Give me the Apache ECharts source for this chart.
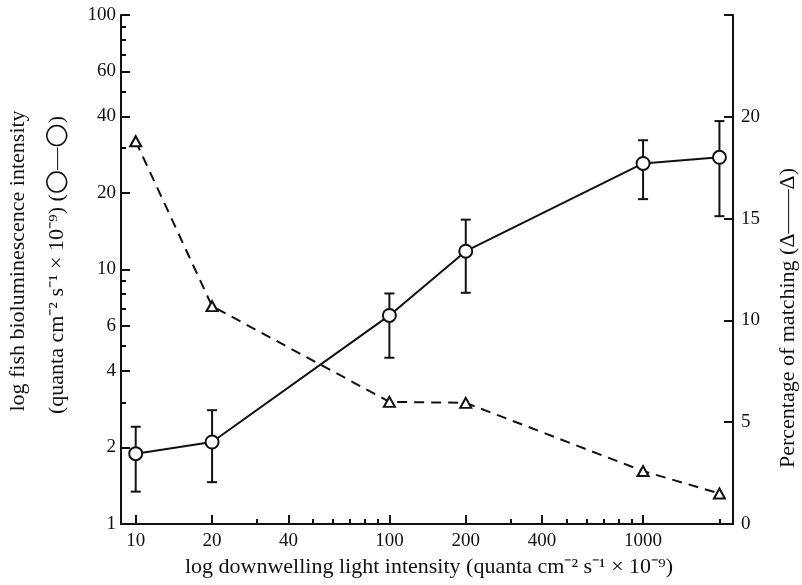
<!DOCTYPE html>
<html>
<head>
<meta charset="utf-8">
<script src="https://cdn.jsdelivr.net/npm/echarts@6/dist/echarts.min.js"></script>
<style>html,body{margin:0;padding:0;background:#fff;}#c{width:802px;height:585px;}</style>
</head>
<body>
<div id="c"></div>
<script>
// ---- data ----
const lightIntensity = [10, 20, 100, 200, 1000, 2000];
const biolum = [1.89, 2.1, 6.6, 11.8, 26.1, 27.6];
const biolumLow = [1.34, 1.46, 4.5, 8.1, 18.9, 16.2];
const biolumHigh = [2.41, 2.8, 8.05, 15.7, 32.2, 38.3];
const matching = [18.8, 10.7, 6.0, 5.95, 2.6, 1.5];

// ---- axis ticks / labels ----
const xRange = [8.75, 2262];
const xLabelTicks = [10, 20, 40, 100, 200, 400, 1000];
const xMinorTicks = [30, 50, 60, 70, 80, 90, 300, 500, 600, 700, 800, 900, 2000];
const yRange = [1, 100];
const yLabelTicks = [1, 2, 4, 6, 10, 20, 40, 60, 100];
const yMinorTicks = [3, 5, 7, 8, 9, 30, 50, 70, 80, 90];
const rTicks = [0, 5, 10, 15, 20, 25];
const rLabels = [0, 5, 10, 15, 20];

const L = Math.log10;
const FONT = 'Liberation Serif';
const FS = 19;
const TFS = 22;
const INK = '#111';

const fmt = v => String(Math.round(Math.pow(10, v)));

function logAxisX(ticks, len, showLine, showLabel) {
  return {
    type: 'value', position: 'bottom', min: L(xRange[0]), max: L(xRange[1]),
    splitLine: { show: false },
    axisLine: { show: showLine, onZero: false, lineStyle: { color: INK, width: 2 } },
    axisTick: { show: true, inside: true, length: len, customValues: ticks.map(L), lineStyle: { color: INK, width: 2 } },
    axisLabel: showLabel ? { show: true, customValues: ticks.map(L), formatter: fmt, margin: 8,
      color: INK, fontFamily: FONT, fontSize: FS } : { show: false }
  };
}
function logAxisY(ticks, len, showLine, showLabel) {
  return {
    type: 'value', position: 'left', min: L(yRange[0]), max: L(yRange[1]),
    splitLine: { show: false },
    axisLine: { show: showLine, onZero: false, lineStyle: { color: INK, width: 2 } },
    axisTick: { show: true, inside: true, length: len, customValues: ticks.map(L), lineStyle: { color: INK, width: 2 } },
    axisLabel: showLabel ? { show: true, customValues: ticks.map(L), formatter: fmt, margin: 5,
      color: INK, fontFamily: FONT, fontSize: FS } : { show: false }
  };
}

const circleData = lightIntensity.map((x, i) => [L(x), L(biolum[i])]);
const errData = lightIntensity.map((x, i) => [L(x), L(biolumLow[i]), L(biolumHigh[i])]);
const triData = lightIntensity.map((x, i) => [L(x), matching[i]]);

const titleFont = TFS + 'px "' + FONT + '"';

const chart = echarts.init(document.getElementById('c'), null, { renderer: 'canvas' });
chart.setOption({
  backgroundColor: '#fff',
  animation: false,
  grid: { left: 121, right: 69, top: 15, bottom: 61, containLabel: false },
  xAxis: [
    logAxisX(xLabelTicks, 9, true, true),
    logAxisX(xMinorTicks, 5, false, false)
  ],
  yAxis: [
    logAxisY(yLabelTicks, 9, true, true),
    logAxisY(yMinorTicks, 5, false, false),
    {
      type: 'value', position: 'right', min: 0, max: 25,
      splitLine: { show: false },
      axisLine: { show: true, onZero: false, lineStyle: { color: INK, width: 2 } },
      axisTick: { show: true, inside: true, length: 9, customValues: rTicks, lineStyle: { color: INK, width: 2 } },
      axisLabel: { show: true, customValues: rLabels, margin: 8, color: INK, fontFamily: FONT, fontSize: FS }
    }
  ],
  series: [
    {
      type: 'custom', xAxisIndex: 0, yAxisIndex: 0, z: 1,
      data: errData,
      renderItem: function (params, api) {
        const lo = api.coord([api.value(0), api.value(1)]);
        const hi = api.coord([api.value(0), api.value(2)]);
        const w = 5;
        const st = { stroke: INK, lineWidth: 2, fill: null };
        return {
          type: 'group',
          children: [
            { type: 'line', shape: { x1: lo[0], y1: lo[1], x2: hi[0], y2: hi[1] }, style: st },
            { type: 'line', shape: { x1: lo[0] - w, y1: lo[1], x2: lo[0] + w, y2: lo[1] }, style: st },
            { type: 'line', shape: { x1: hi[0] - w, y1: hi[1], x2: hi[0] + w, y2: hi[1] }, style: st }
          ]
        };
      }
    },
    {
      type: 'line', xAxisIndex: 0, yAxisIndex: 2, z: 2,
      data: triData,
      symbol: 'triangle', symbolSize: [11, 10],
      lineStyle: { color: INK, width: 2, type: [10, 7] },
      itemStyle: { color: '#fff', borderColor: INK, borderWidth: 2 }
    },
    {
      type: 'line', xAxisIndex: 0, yAxisIndex: 0, z: 3,
      data: circleData,
      symbol: 'circle', symbolSize: 13,
      lineStyle: { color: INK, width: 2 },
      itemStyle: { color: '#fff', borderColor: INK, borderWidth: 2 }
    }
  ],
  graphic: [
    { type: 'text', x: 18, y: 261, rotation: Math.PI / 2,
      style: { text: 'log fish bioluminescence intensity', fill: INK, font: titleFont, align: 'center', verticalAlign: 'middle' } },
    { type: 'text', x: 57, y: 265, rotation: Math.PI / 2,
      style: { text: '(quanta cm\u207B\u00B2 s\u207B\u00B9 \u00D7 10\u207B\u2079) ({c|\u25CB}\u2014{c|\u25CB})',
        fill: INK, font: titleFont, align: 'center', verticalAlign: 'middle',
        rich: { c: { fontSize: 28, fontFamily: 'DejaVu Sans', fill: INK } } } },
    { type: 'text', x: 429, y: 567,
      style: { text: 'log downwelling light intensity (quanta cm\u207B\u00B2 s\u207B\u00B9 \u00D7 10\u207B\u2079)', fill: INK, font: titleFont, align: 'center', verticalAlign: 'middle' } },
    { type: 'text', x: 788, y: 318, rotation: Math.PI / 2,
      style: { text: 'Percentage of matching (\u0394\u2014\u2014\u0394)', fill: INK, font: titleFont, align: 'center', verticalAlign: 'middle' } }
  ]
});
</script>
</body>
</html>
